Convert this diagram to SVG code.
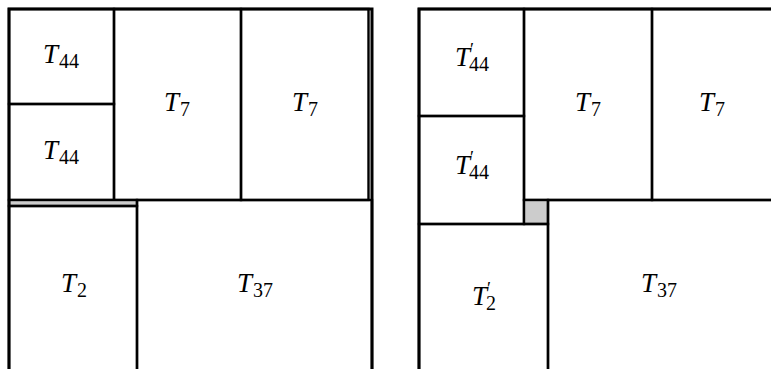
<svg xmlns="http://www.w3.org/2000/svg" width="771" height="369" viewBox="0 0 771 369">
<style>
.box{fill:none;stroke:#000;stroke-width:2.4}
.outer{fill:none;stroke:#000;stroke-width:3}
.gray{fill:#cccccc;stroke:#000;stroke-width:2.4}
.lbl{font-size:27px;text-anchor:middle;fill:#000}
.it{font-style:italic}
.sub{font-size:20px}
.pr{font-size:18px}
</style>
<rect width="771" height="369" fill="#fff"/>
<g id="left-panel" font-family="'Liberation Serif', 'DejaVu Serif', serif">
  <g id="L-T44-a"><rect class="box" x="9" y="9" width="105" height="95"/>
    <text class="lbl" x="61" y="63"><tspan class="it">T</tspan><tspan class="sub" dx="1" dy="5">44</tspan></text></g>
  <g id="L-T44-b"><rect class="box" x="9" y="104" width="105" height="96"/>
    <text class="lbl" x="61" y="159"><tspan class="it">T</tspan><tspan class="sub" dx="1" dy="5">44</tspan></text></g>
  <g id="L-T7-a"><rect class="box" x="114" y="9" width="127" height="191"/>
    <text class="lbl" x="177" y="111"><tspan class="it">T</tspan><tspan class="sub" dx="1" dy="5">7</tspan></text></g>
  <g id="L-T7-b"><rect class="box" x="241" y="9" width="127.5" height="191"/>
    <text class="lbl" x="305" y="111"><tspan class="it">T</tspan><tspan class="sub" dx="1" dy="5">7</tspan></text></g>
  <g id="L-gap"><rect class="gray" x="9" y="200" width="128" height="6"/></g>
  <g id="L-T2"><rect class="box" x="9" y="206" width="128" height="170"/>
    <text class="lbl" x="74" y="292"><tspan class="it">T</tspan><tspan class="sub" dx="1" dy="5">2</tspan></text></g>
  <g id="L-T37"><rect class="box" x="137" y="200" width="235" height="176"/>
    <text class="lbl" x="255" y="292"><tspan class="it">T</tspan><tspan class="sub" dx="1" dy="5">37</tspan></text></g>
  <path class="outer" d="M9,369 V9 H372 V369"/>
</g>
<g id="right-panel" font-family="'Liberation Serif', 'DejaVu Serif', serif">
  <g id="R-T44p-a"><rect class="box" x="419" y="9" width="105" height="107"/>
    <text class="lbl" x="472" y="66"><tspan class="it">T</tspan><tspan class="pr" dy="-10">′</tspan><tspan class="sub" dx="-5" dy="15">44</tspan></text></g>
  <g id="R-T44p-b"><rect class="box" x="419" y="116" width="105" height="108"/>
    <text class="lbl" x="472" y="174"><tspan class="it">T</tspan><tspan class="pr" dy="-10">′</tspan><tspan class="sub" dx="-5" dy="15">44</tspan></text></g>
  <g id="R-T7-a"><rect class="box" x="524" y="9" width="128" height="191"/>
    <text class="lbl" x="588" y="111"><tspan class="it">T</tspan><tspan class="sub" dx="1" dy="5">7</tspan></text></g>
  <g id="R-T7-b"><rect class="box" x="652" y="9" width="130" height="191"/>
    <text class="lbl" x="712" y="111"><tspan class="it">T</tspan><tspan class="sub" dx="1" dy="5">7</tspan></text></g>
  <g id="R-gap"><rect class="gray" x="524" y="200" width="24" height="24"/></g>
  <g id="R-T2p"><rect class="box" x="419" y="224" width="129" height="152"/>
    <text class="lbl" x="484" y="305"><tspan class="it">T</tspan><tspan class="pr" dy="-10">′</tspan><tspan class="sub" dx="-5" dy="15">2</tspan></text></g>
  <g id="R-T37"><rect class="box" x="548" y="200" width="234" height="176"/>
    <text class="lbl" x="659" y="292"><tspan class="it">T</tspan><tspan class="sub" dx="1" dy="5">37</tspan></text></g>
  <path class="outer" d="M419,369 V9 H771"/>
</g>
</svg>
